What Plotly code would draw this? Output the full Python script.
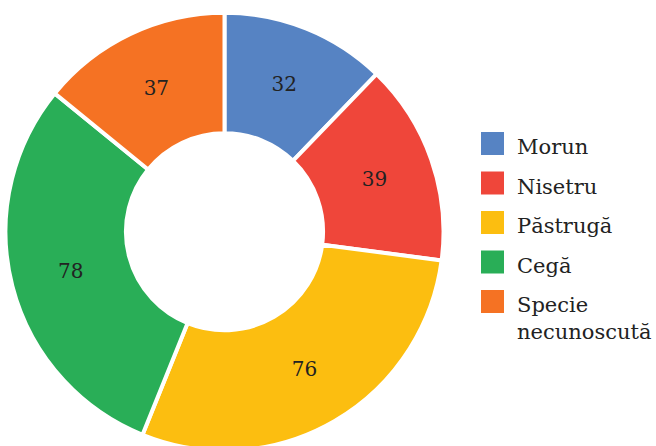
import plotly.graph_objects as go

labels = ["Morun", "Nisetru", "Păstrugă", "Cegă", "Specie necunoscută"]
legend_text = ["Morun", "Nisetru", "Păstrugă", "Cegă", "Specie<br>necunoscută"]
values = [32, 39, 76, 78, 37]
colors = ["#5683C3", "#EF463A", "#FCBE10", "#29AE57", "#F57223"]

FONT = "Georgia, 'DejaVu Serif', serif"
W, H = 656, 446
FH = 460  # figure slightly taller than the window; bottom of the ring is cropped as in the reference

CX, CY, R = 224.5, 231.7, 219.0

fig = go.Figure()
fig.add_trace(go.Pie(
    labels=labels,
    values=values,
    hole=0.45,
    sort=False,
    direction="clockwise",
    rotation=0,
    marker=dict(colors=colors, line=dict(color="white", width=4)),
    textinfo="value",
    textposition="inside",
    insidetextorientation="horizontal",
    textfont=dict(family=FONT, size=20, color="#222222"),
    domain=dict(x=[(CX - R) / W, (CX + R) / W],
                y=[1 - (CY + R) / FH, 1 - (CY - R) / FH]),
    showlegend=False,
))

# custom legend built from the data arrays
y0 = 132
step = 39.5
for i, (txt, col) in enumerate(zip(legend_text, colors)):
    top = y0 + i * step
    fig.add_shape(type="rect", xref="paper", yref="paper",
                  x0=481 / W, x1=504 / W,
                  y0=1 - (top + 23) / FH, y1=1 - top / FH,
                  fillcolor=col, line=dict(width=0))
    fig.add_annotation(xref="paper", yref="paper",
                       x=515 / W, y=1 - (top + 1) / FH,
                       xanchor="left", yanchor="top", align="left",
                       text=txt, showarrow=False,
                       font=dict(family=FONT, size=21, color="#222222"))

fig.update_layout(
    width=W, height=FH,
    margin=dict(l=0, r=0, t=0, b=0),
    paper_bgcolor="white",
    plot_bgcolor="white",
)

fig.write_html(
    "out.html",
    config={"displayModeBar": False},
    post_script=("document.documentElement.style.overflow='hidden';"
                 "document.body.style.overflow='hidden';"
                 "document.body.style.margin='0';document.body.style.padding='0';"),
)
